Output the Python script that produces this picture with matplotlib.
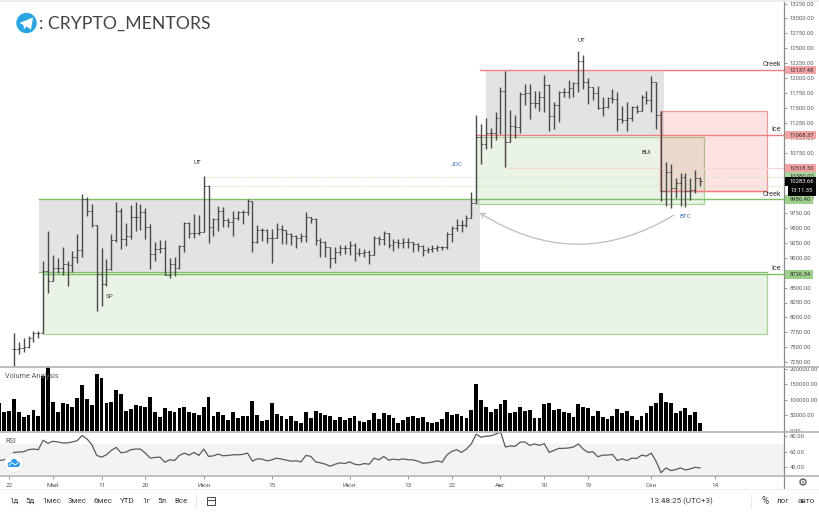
import matplotlib
matplotlib.use("Agg")
import matplotlib.pyplot as plt
import matplotlib.patches as mpatches
import numpy as np

plt.rcParams["font.family"] = ["Roboto", "DejaVu Sans"]

# daily bars, index 0 is the first one visible in the price pane
highs = [7735, 7595, 7651, 7696, 7774, 7779, 8950, 9452, 9045, 9000, 9184, 8950, 9112, 9390, 10065, 10020, 9897, 9546,
         9156, 8978, 9390, 9925, 9836, 9574, 9881, 9931, 9892, 9825, 9563, 9256, 9295, 9295, 8989, 9006, 9212, 9602,
         9602, 9725, 9714, 10366, 10215, 9669, 9870, 9842, 9658, 9780, 9786, 9797, 9981, 9953, 9546, 9491, 9474, 9474,
         9574, 9546, 9463, 9418, 9379, 9407, 9758, 9686, 9658, 9323, 9284, 9184, 9173, 9212, 9212, 9279, 9251, 9156,
         9145, 9128, 9362, 9362, 9452, 9407, 9307, 9307, 9323, 9323, 9268, 9251, 9212, 9173, 9212, 9212, 9201, 9435,
         9530, 9647, 9630, 9714, 10093, 11386, 11235, 11330, 11163, 11442, 11848, 12127, 11469, 11386, 11765, 11899,
         11899, 11793, 11793, 12055, 11904, 11609, 11793, 11832, 11971, 11943, 12456, 12389, 12010, 11860, 11871,
         11681, 11692, 11821, 11776, 11542, 11609, 11542, 11553, 11720, 11793, 12038, 11943, 11453, 10605, 10561,
         10327, 10410, 10422, 10327, 10466, 10355]
lows = [7100, 7384, 7428, 7484, 7595, 7651, 7735, 8404, 8610, 8749, 8710, 8526, 8766, 8905, 9017, 9697, 9518, 8114,
        8197, 8532, 8794, 9268, 9145, 9195, 9312, 9452, 9463, 9312, 8816, 8950, 9072, 8710, 8654, 8699, 8811, 9100,
        9323, 9323, 9379, 9424, 9251, 9368, 9446, 9518, 9507, 9362, 9630, 9563, 9714, 9100, 9251, 9284, 9240, 8916,
        9323, 9229, 9229, 9212, 9156, 9268, 9268, 9574, 9212, 9006, 9006, 8833, 8905, 9045, 9061, 9045, 8950, 9028,
        9017, 8894, 9045, 9212, 9212, 9156, 9117, 9156, 9167, 9156, 9100, 9117, 9033, 9072, 9100, 9112, 9128, 9139,
        9256, 9446, 9435, 9507, 9658, 9909, 10561, 10812, 10828, 10968, 11068, 10511, 10940, 10996, 11090, 11553,
        11319, 11497, 11453, 11442, 11124, 11146, 11263, 11681, 11676, 11681, 11765, 11815, 11564, 11637, 11486,
        11369, 11497, 11581, 11118, 11246, 11118, 11286, 11425, 11458, 11564, 11442, 11152, 9953, 9870, 9825, 9992,
        9870, 9853, 9964, 10076, 10204]
closes = [7467, 7495, 7512, 7651, 7735, 7735, 8777, 8610, 8822, 8822, 8889, 8877, 9006, 9128, 9981, 9786, 9546, 8721,
          8554, 8811, 9295, 9780, 9307, 9368, 9674, 9686, 9758, 9518, 9056, 9145, 9156, 8710, 8894, 8833, 9195, 9574,
          9418, 9407, 9424, 10204, 9507, 9647, 9780, 9630, 9602, 9658, 9758, 9758, 9953, 9268, 9463, 9463, 9323, 9323,
          9479, 9463, 9396, 9368, 9334, 9362, 9686, 9641, 9295, 9268, 9184, 8989, 9100, 9156, 9156, 9212, 9072, 9084,
          9100, 9045, 9323, 9307, 9407, 9212, 9268, 9251, 9268, 9268, 9229, 9195, 9128, 9139, 9156, 9173, 9173, 9396,
          9491, 9546, 9546, 9669, 9909, 11024, 10901, 11079, 11090, 11330, 11787, 10940, 11207, 11180, 11737, 11748,
          11581, 11592, 11681, 11888, 11375, 11553, 11776, 11776, 11843, 11915, 12294, 11932, 11860, 11748, 11508,
          11525, 11665, 11648, 11313, 11302, 11330, 11525, 11458, 11692, 11637, 11932, 11386, 10121, 10427, 10160,
          10243, 10344, 10121, 10132, 10327, 10283]

# volume in thousands and rsi start three bars earlier
volumes = [90, 61, 63, 103, 61, 45, 52, 66, 49, 178, 208, 93, 61, 90, 86, 77, 107, 147, 102, 84, 184, 169, 88, 93, 130,
           118, 63, 71, 84, 81, 77, 110, 60, 45, 73, 65, 60, 72, 77, 60, 58, 51, 77, 110, 49, 60, 51, 36, 60, 42, 49,
           49, 95, 52, 30, 33, 88, 54, 49, 39, 47, 32, 26, 60, 42, 63, 58, 52, 48, 33, 45, 34, 41, 47, 32, 28, 35, 56,
           37, 58, 51, 40, 24, 34, 45, 47, 41, 45, 29, 25, 28, 37, 61, 50, 54, 47, 42, 66, 150, 99, 78, 62, 71, 85, 99,
           58, 60, 76, 64, 68, 42, 42, 86, 91, 66, 71, 62, 58, 44, 86, 78, 74, 49, 65, 45, 38, 49, 71, 56, 65, 48, 36,
           46, 58, 81, 90, 123, 94, 91, 58, 63, 74, 50, 60, 25]
rsi = [48.6, 49.5, 53.9, 59.1, 59.5, 60, 62.6, 63.4, 62.6, 74.8, 70.8, 73.5, 72.6, 71.3, 71.3, 72.6, 74.3, 80.9, 76.5,
       69.1, 55.2, 53, 56, 61.7, 65.6, 58.6, 59.5, 62.6, 63.4, 63.4, 58.2, 51.7, 52.6, 53, 46.5, 49.5, 48.6, 55.2,
       58.2, 55.6, 59.1, 55.2, 63.4, 53.9, 54.7, 56.9, 54.7, 55.2, 56, 56, 56.5, 58.2, 47.8, 50.8, 50.4, 48.2, 49.5,
       51.7, 50.4, 49.1, 47.8, 48.2, 46.9, 55.2, 53.9, 46.9, 45.6, 43.8, 41.2, 43.8, 45.6, 44.7, 46.9, 43.8, 43, 44.7,
       43.8, 51.7, 49.5, 53.9, 49.1, 50.4, 49.5, 50.8, 49.5, 49.5, 47.8, 45.1, 45.6, 46.5, 48.2, 46.5, 56, 60.4, 62.6,
       59.1, 63.4, 70, 82.6, 78.7, 80, 80.4, 82.6, 85.7, 66.1, 67.4, 66.9, 72.2, 72.6, 68.2, 70, 68.2, 70.4, 59.1,
       61.7, 64.3, 64.3, 64.8, 66.1, 70, 63.4, 59.1, 60, 53.4, 55.6, 55.6, 56.5, 48.6, 50.8, 48.6, 51.7, 51.2, 55.6,
       54.3, 58.2, 47.3, 32.9, 39, 35.6, 36.9, 39, 36.4, 37.7, 39.9, 39]

x_tick_pos = [-1, 8, 18, 27, 39, 53, 69, 81, 90, 100, 109, 118, 131, 144]
x_tick_labels = ["22", "Май", "11", "20", "Июн", "15", "Июл", "13", "22", "Авг", "10", "19", "Сен", "14"]
price_ticks = list(range(7250, 13251, 250))
vol_ticks = [0, 50000, 100000, 150000, 200000]
rsi_ticks = [40, 60, 80]

W, H = 820, 512
TEXT = "#555a60"
GREEN_LINE = "#7fbf6a"
RED_LINE = "#ee7f7f"
RIGHT = 784.5
AXIS_FS = 4.25
BAR_FS = 5.8


def pane(y0, y1):
    return fig.add_axes([0, 1 - y1 / H, RIGHT / W, (y1 - y0) / H])


def bx(px):
    # pixel column -> bar index
    return (px - 14) / 4.865


def pr(py):
    # pixel row -> price
    return 13250 - (py - 3.5) / 0.0598


fig = plt.figure(figsize=(W / 100, H / 100), dpi=100, facecolor="white")
ax = pane(0, 366.5)
ax_vol = pane(366.5, 431.5)
ax_rsi = pane(431.5, 476)

for a in (ax, ax_vol, ax_rsi):
    a.set_xlim(bx(0), bx(RIGHT))
    a.yaxis.tick_right()
    for side in ("top", "left", "bottom"):
        a.spines[side].set_visible(False)
    a.spines["right"].set_color("#8a8a8a")
    a.spines["right"].set_linewidth(0.9)
    a.tick_params(axis="y", length=2.5, width=0.6, color="#8a8a8a", labelsize=AXIS_FS, labelcolor=TEXT, pad=1.2)

# ── Price pane ───────────────────────────────────────────────
ax.set_ylim(pr(366.5), pr(0))
ax.set_xticks([])
ax.set_yticks(price_ticks)
ax.set_yticklabels([f"{t:.2f}" for t in price_ticks])


def zone(x0, x1, y0, y1, **kw):
    ax.add_patch(mpatches.Rectangle((bx(x0), pr(y1)), bx(x1) - bx(x0), pr(y0) - pr(y1), **kw))


def hline(y, x0, x1, **kw):
    ax.plot([bx(x0), bx(x1)], [pr(y), pr(y)], **kw)


zone(39, 480, 199.5, 271.5, facecolor="#e3e3e3", edgecolor="none", zorder=1)
zone(485.7, 664, 70.5, 135, facecolor="#e3e3e3", edgecolor="none", zorder=1)
zone(43, 767, 274, 334, facecolor=(0.3, 0.62, 0.2, 0.12), edgecolor="#a9d398", linewidth=0.9, zorder=2)
zone(475.7, 704.3, 137.3, 203.5, facecolor=(0.3, 0.62, 0.2, 0.12), edgecolor="#a9d398", linewidth=0.9, zorder=2)
zone(660, 767.3, 111.3, 190.8, facecolor=(0.95, 0.3, 0.3, 0.16), edgecolor="#ee9a9a", linewidth=0.9, zorder=2)

hline(70, 480, RIGHT, color=RED_LINE, lw=1, zorder=3)
hline(135, 476, RIGHT, color=RED_LINE, lw=1, zorder=3)
hline(190.8, 660, 767.3, color=RED_LINE, lw=1, zorder=3)
hline(167.5, 506, RIGHT, color="#f6d5d0", lw=0.8, zorder=3)
ax.plot([bx(506), bx(506)], [pr(135), pr(167.5)], color="#ecdccf", lw=0.8, zorder=3)
hline(199.3, 39, RIGHT, color=GREEN_LINE, lw=1, zorder=3)
hline(271.7, 39, 767, color=GREEN_LINE, lw=0.9, zorder=3)
hline(274.3, 43, RIGHT, color=GREEN_LINE, lw=1, zorder=3)
hline(176.5, 204, RIGHT, color="#dcebc8", lw=0.8, ls=(0, (2, 1)), zorder=3)
hline(186.3, 204, RIGHT, color="#dcebc8", lw=0.8, ls=(0, (2, 1)), zorder=3)

bar_x = np.arange(len(closes))
closes_arr = np.array(closes)
opens = np.r_[closes_arr[0], closes_arr[:-1]]
BAR = "#4a4a4a"
ax.vlines(bar_x, lows, highs, color=BAR, linewidth=1.0, zorder=5)
ax.hlines(opens, bar_x - 0.4, bar_x, color=BAR, linewidth=0.7, zorder=5)
ax.hlines(closes_arr, bar_x, bar_x + 0.4, color=BAR, linewidth=0.7, zorder=5)

# ── Volume pane ──────────────────────────────────────────────
vol_x = np.arange(-3, len(closes))
ax_vol.bar(vol_x, np.array(volumes) * 1000, width=0.78, color="black", linewidth=0)
ax_vol.set_ylim(-2600, 207500)
ax_vol.set_xticks([])
ax_vol.set_yticks(vol_ticks)
ax_vol.set_yticklabels([f"{t:.2f}" for t in vol_ticks])

# ── RSI pane ─────────────────────────────────────────────────
ax_rsi.axhspan(30, 70, color="#f3f3f6", zorder=0, linewidth=0)
ax_rsi.plot(vol_x, rsi, color="#5a5a5a", lw=0.9, zorder=3)
ax_rsi.set_ylim(28.6, 86.1)
ax_rsi.set_yticks(rsi_ticks)
ax_rsi.set_yticklabels([f"{t:.2f}" for t in rsi_ticks])
ax_rsi.set_xticks(x_tick_pos)
ax_rsi.set_xticklabels(x_tick_labels)
ax_rsi.tick_params(axis="x", length=2, width=0.6, color="#8a8a8a", labelsize=4.6, labelcolor=TEXT, pad=3)

# ── Overlay in pixel coordinates: labels, logos, toolbar ─────
ov = fig.add_axes([0, 0, 1, 1], zorder=10)
ov.set_xlim(0, W)
ov.set_ylim(H, 0)
ov.axis("off")
ov.patch.set_alpha(0)

ov.add_patch(mpatches.Rectangle((0, 0), W, 1.5, facecolor="#eceef5", edgecolor="none"))
for y in (366.5, 431.5, 476):
    ov.plot([0, W], [y, y], color="#b4b4b4", lw=1.2)
ov.plot([RIGHT, RIGHT], [476, 489], color="#8a8a8a", lw=0.9)
ov.plot([0, W], [489, 489], color="#f0f0f0", lw=0.8)

chart_labels = [("UT", 198, 163, "#333333"), ("UT", 582, 41, "#333333"), ("SP", 110, 297, "#444444"),
                ("JOC", 457, 165, "#3f6fb5"), ("BUI", 646, 153, "#333333"), ("BTC", 685, 216, "#3f6fb5")]
for s, x, y, c in chart_labels:
    ov.text(x, y, s, fontsize=4.6, color=c, ha="center", va="center")
for s, x, y in [("Creek", 772, 65), ("Ice", 776, 129.5), ("Creek", 772, 194), ("Ice", 776, 269)]:
    ov.text(x, y, s, fontsize=5.2, color="#333333", ha="center", va="center")

ov.add_patch(mpatches.FancyArrowPatch((674, 215), (480, 213), connectionstyle="arc3,rad=-0.31",
                                      arrowstyle="->,head_length=3,head_width=2", color="#bdbdbd", lw=0.9,
                                      shrinkA=0, shrinkB=0))

price_tags = [("10380.00", 176.5, 816, "#a8d69a", "#333333"), ("12137.48", 70, 816, "#f2a3a3", "#333333"),
              ("11068.37", 135, 816, "#f2a3a3", "#333333"), ("10518.50", 168, 816, "#f2a3a3", "#333333"),
              ("9986.40", 199.5, 813, "#9ccf8a", "#333333"), ("8726.34", 274.3, 813, "#9ccf8a", "#333333"),
              ("10283.66", 181.5, 816, "black", "white")]
for s, y, x1, bg, fg in price_tags:
    ov.add_patch(mpatches.Rectangle((785, y - 4.2), x1 - 785, 8.4, facecolor=bg, edgecolor="none"))
    ov.text(789.5, y + 0.1, s, fontsize=AXIS_FS, color=fg, va="center")
ov.add_patch(mpatches.Rectangle((788, 186), 28, 9.5, facecolor="black", edgecolor="none"))
ov.text(791, 190.8, "13:11:35", fontsize=AXIS_FS, color="white", va="center")

# telegram mark and channel name
ov.add_patch(mpatches.Circle((26.5, 23), 10.2, facecolor="#2ba5e2", edgecolor="none"))
ov.add_patch(mpatches.Polygon([(19.5, 23), (33, 17.5), (31, 29.5), (26.5, 26.5), (24, 29), (23.5, 25)],
                              facecolor="white", edgecolor="none"))
ov.text(39, 23.5, ": CRYPTO_MENTORS", family="Lato", fontsize=12.7, color="#444444", va="center")

ov.text(5, 376.5, "Volume Analysis", fontsize=5.2, color=TEXT, va="center")
ov.text(5, 441.5, "RSI", fontsize=5.2, color=TEXT, va="center")

# cloud badge over the rsi pane
ov.add_patch(mpatches.Circle((14, 463), 9.5, facecolor="white", edgecolor="#e4e4e4", lw=0.6))
for cx, cy, r in [(10, 464.5, 2.4), (14, 462, 3.2), (17.5, 464, 2.6)]:
    ov.add_patch(mpatches.Circle((cx, cy), r, facecolor="#2f9be8", edgecolor="none"))
ov.add_patch(mpatches.Rectangle((8.5, 464), 10.5, 2.8, facecolor="#2f9be8", edgecolor="none"))
ov.plot([9, 12, 15, 18], [465.5, 462.5, 465, 463], color="white", lw=0.6)

for s, x in [("1д", 14), ("5д", 30), ("1мес", 52), ("3мес", 77), ("6мес", 103), ("YTD", 127), ("1г", 146), ("5л", 162),
             ("Все", 181)]:
    ov.text(x, 501, s, fontsize=BAR_FS, color="#333a44", ha="center", va="center")
ov.plot([196.5, 196.5], [494, 508], color="#ececec", lw=0.8)
ov.plot([751.5, 751.5], [494, 508], color="#ececec", lw=0.8)
ov.add_patch(mpatches.Rectangle((207, 497), 8.5, 8, facecolor="none", edgecolor="#444444", lw=0.7))
ov.plot([207, 215.5], [499.5, 499.5], color="#444444", lw=0.7)
ov.text(681, 501, "13:48:25 (UTC+3)", fontsize=BAR_FS, color="#333a44", ha="center", va="center")
ov.text(765, 501, "%", fontsize=7, color="#333a44", ha="center", va="center")
ov.text(783, 501, "лог", fontsize=BAR_FS, color="#333a44", ha="center", va="center")
ov.text(806, 501, "авто", fontsize=BAR_FS, color="#333a44", ha="center", va="center")
ov.text(802.5, 483, "⚙", fontsize=8, family="DejaVu Sans", color="#444444", ha="center", va="center")

fig.savefig("out.png", dpi=100)
